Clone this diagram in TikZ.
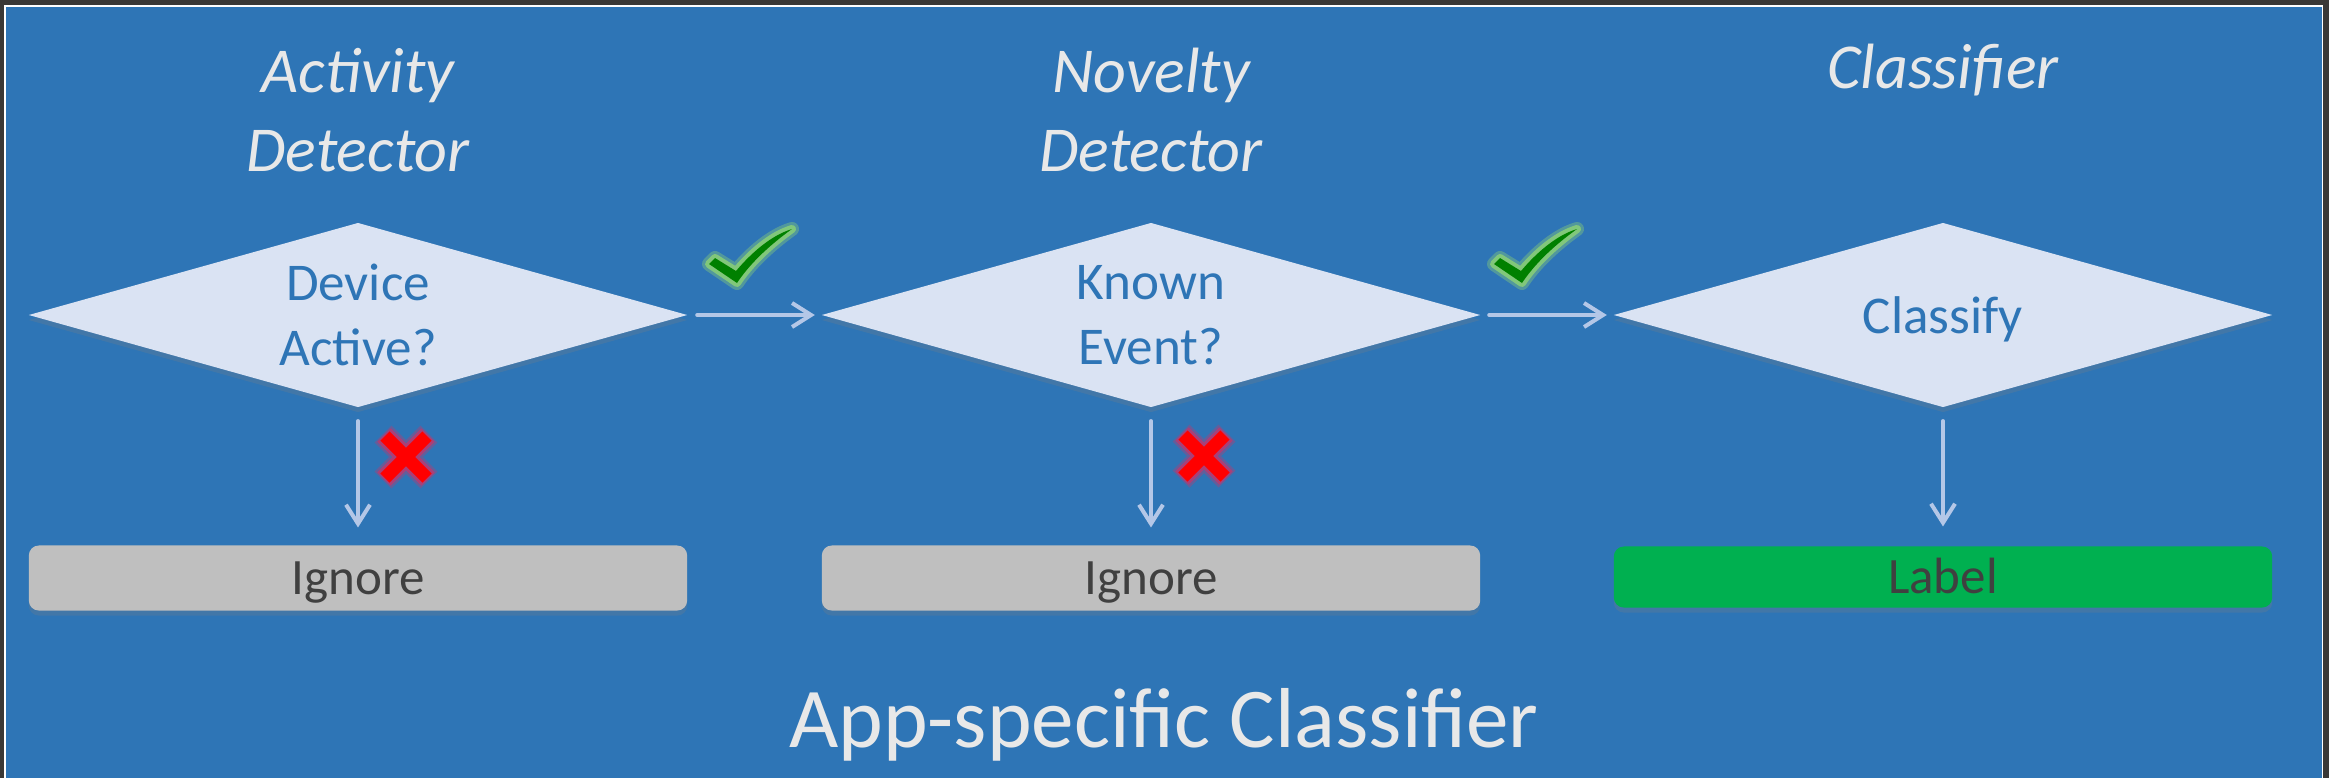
\documentclass[tikz,border=0pt]{standalone}
\usepackage{fontspec}
\setmainfont{Carlito}
\usetikzlibrary{shapes.geometric,arrows.meta,shadows}
\definecolor{framedark}{RGB}{58,56,54}
\definecolor{slideblue}{RGB}{46,117,182}
\definecolor{diamondfill}{RGB}{218,227,243}
\definecolor{arrowblue}{RGB}{180,199,231}
\definecolor{ignoregray}{RGB}{191,191,191}
\definecolor{labelgreen}{RGB}{0,176,80}
\definecolor{boxtext}{RGB}{64,64,64}
\definecolor{titlegray}{RGB}{232,232,232}
\definecolor{tickgreen}{RGB}{0,128,0}
\definecolor{tickglow}{RGB}{150,220,110}
\definecolor{crossred}{RGB}{255,0,0}
\definecolor{crossglow}{RGB}{230,40,90}

% green tick, placed by its lowest point
\newcommand{\okmark}[1]{%
  \begin{scope}[shift={#1}]
    \filldraw[tickglow, opacity=0.35, line width=0.14cm, line join=round]
      (-28,-16) -- (-22,-22) -- (-1,-9) .. controls (15,-28) and (35,-45) .. (55,-51)
      .. controls (30,-33) and (12,-15) .. (0,3) -- cycle;
    \filldraw[tickglow, opacity=0.7, line width=0.08cm, line join=round]
      (-28,-16) -- (-22,-22) -- (-1,-9) .. controls (15,-28) and (35,-45) .. (55,-51)
      .. controls (30,-33) and (12,-15) .. (0,3) -- cycle;
    \fill[tickgreen]
      (-28,-16) -- (-22,-22) -- (-1,-9) .. controls (15,-28) and (35,-45) .. (55,-51)
      .. controls (30,-33) and (12,-15) .. (0,3) -- cycle;
  \end{scope}}

% red cross, placed by its centre
\newcommand{\nomark}[1]{%
  \begin{scope}[shift={#1}]
    \draw[crossglow, opacity=0.3, line width=0.24cm]
      (-23,-23) -- (23,23) (-23,23) -- (23,-23);
    \draw[crossglow, opacity=0.55, line width=0.19cm]
      (-22,-22) -- (22,22) (-22,22) -- (22,-22);
    \draw[crossred, line width=0.13cm]
      (-21,-21) -- (21,21) (-21,21) -- (21,-21);
  \end{scope}}

\begin{document}
\begin{tikzpicture}[x=0.01cm, y=-0.01cm,
    stage/.style={text=titlegray, align=center,
      font=\fontsize{18.2}{22.5}\selectfont\itshape},
    decision/.style={diamond, aspect=3.58, minimum width=6.58cm,
      minimum height=1.84cm, inner sep=0pt, outer sep=0pt,
      fill=diamondfill, text=slideblue, align=center,
      font=\fontsize{15.1}{18.5}\selectfont,
      drop shadow={shadow xshift=0pt, shadow yshift=-0.05cm, opacity=0.25}},
    outcome/.style={rectangle, rounded corners=0.1cm, minimum width=6.58cm,
      minimum height=0.65cm, inner sep=0pt, outer sep=0pt, text=boxtext,
      text height=0.42cm, text depth=0.1cm,
      font=\fontsize{14.5}{17}\selectfont,
      drop shadow={shadow xshift=0pt, shadow yshift=-0.05cm, opacity=0.25}},
    flow/.style={draw=arrowblue, line width=0.04cm, line cap=round,
      -{Straight Barb[length=0.19cm, width=0.24cm]}}]

  % slide frame
  \useasboundingbox (0,0) rectangle (2329,778);
  \fill[framedark] (0,0) rectangle (2329,778);
  \fill[white] (4,5) rectangle (2323,778);
  \fill[slideblue] (6,7) rectangle (2321.5,778);

  % stage titles
  \node[stage] (actTitle) at (358,110) {Activity\\Detector};
  \node[stage] (novTitle) at (1151,110) {Novelty\\Detector};
  \node[stage] (clsTitle) at (1943,70) {Classifier};

  % decisions
  \node[decision] (active) at (358,315) {Device\\Active?};
  \node[decision] (known) at (1151,315) {Known\\Event?};
  \node[decision, text height=0.48cm, text depth=0.11cm] (classify) at (1943,315) {Classify};

  % outcomes
  \node[outcome, fill=ignoregray] (ignoreA) at (358,578) {Ignore};
  \node[outcome, fill=ignoregray] (ignoreB) at (1151,578) {Ignore};
  \node[outcome, fill=labelgreen, minimum height=0.61cm] (label) at (1943,577) {Label};

  % connectors
  \draw[flow, shorten <=0.1cm, shorten >=0.07cm] (active.east) -- (known.west);
  \draw[flow, shorten <=0.09cm, shorten >=0.07cm] (known.east) -- (classify.west);
  \draw[flow, shorten <=0.14cm, shorten >=0.18cm] (active.south) -- (ignoreA.north);
  \draw[flow, shorten <=0.14cm, shorten >=0.18cm] (known.south) -- (ignoreB.north);
  \draw[flow, shorten <=0.14cm, shorten >=0.2cm] (classify.south) -- (label.north);

  % ticks and crosses
  \okmark{(737,280)}
  \okmark{(1522,280)}
  \nomark{(406,457)}
  \nomark{(1204,456)}

  % footer
  \node[text=titlegray, font=\fontsize{24.2}{29}\selectfont] (appTitle) at (1164,725) {App-specific Classifier};
\end{tikzpicture}
\end{document}
